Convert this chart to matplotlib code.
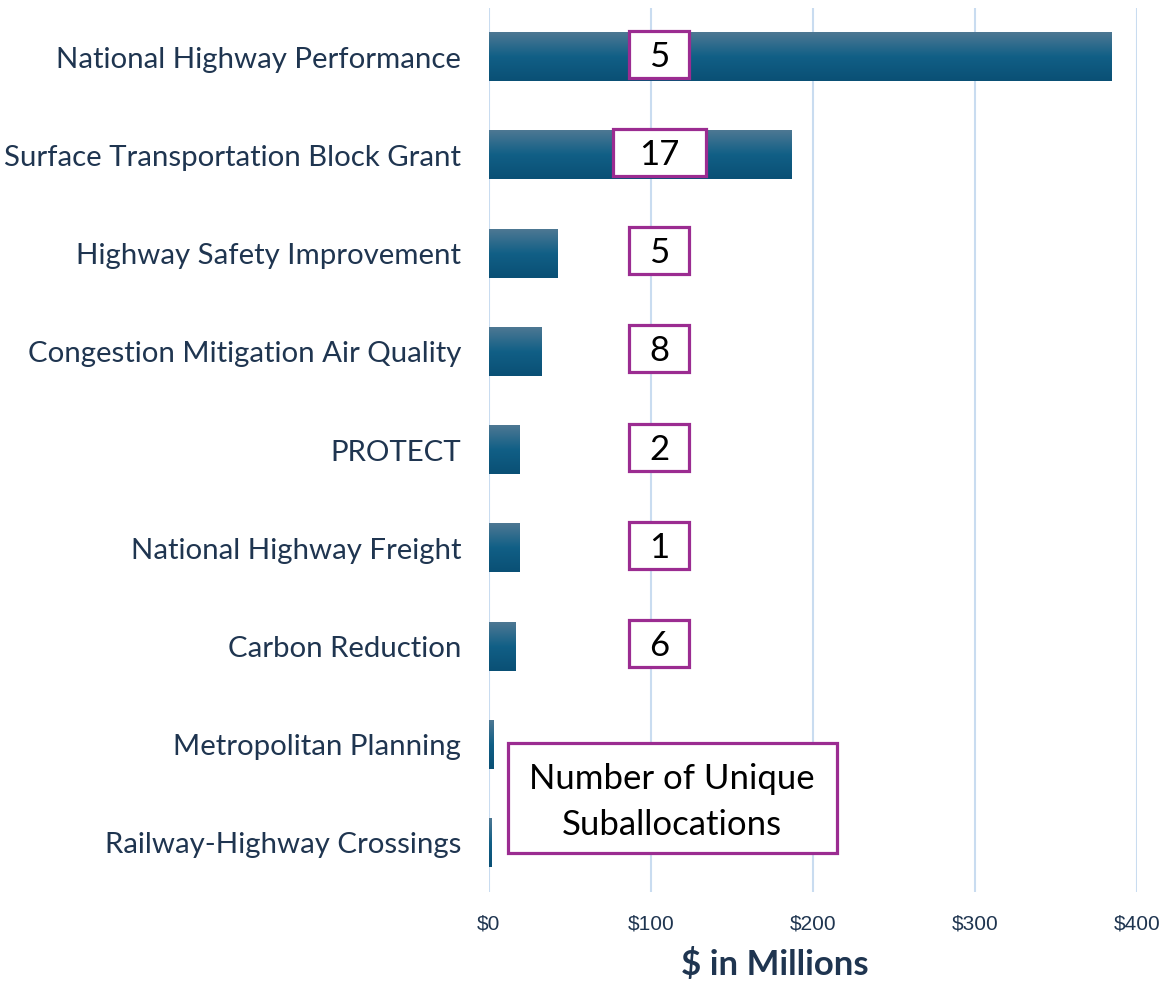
import matplotlib.pyplot as plt
import matplotlib.transforms as mtransforms
from matplotlib.patches import Rectangle
import numpy as np
from matplotlib.colors import LinearSegmentedColormap

programs = [
    "National Highway Performance",
    "Surface Transportation Block Grant",
    "Highway Safety Improvement",
    "Congestion Mitigation Air Quality",
    "PROTECT",
    "National Highway Freight",
    "Carbon Reduction",
    "Metropolitan Planning",
    "Railway-Highway Crossings",
]
amounts = [384.5, 187, 42.5, 32.5, 19, 19, 16.5, 2.5, 1.3]
suballocations = [5, 17, 5, 8, 2, 1, 6, None, None]
xticks = [0, 100, 200, 300, 400]

navy = "#1f3550"
purple = "#9b2c91"
grad = LinearSegmentedColormap.from_list(
    "bar", [(0, "#4d7893"), (0.5, "#115f86"), (1, "#0a5075")])

fig = plt.figure(figsize=(11.65, 9.82), dpi=100)
ax = fig.add_axes([0.4197, 0.0916, 0.5562, 0.9002])

ypos = np.arange(len(programs))
bars = ax.barh(ypos, amounts, height=0.49, color="#115f86", zorder=2)
g = np.linspace(0, 1, 64).reshape(-1, 1)
for b in bars:
    x, y, w, h = b.get_x(), b.get_y(), b.get_width(), b.get_height()
    ax.imshow(g, cmap=grad, aspect="auto", extent=(x, x + w, y + h, y),
              origin="upper", zorder=3, interpolation="bilinear")


def box(xc, yc, w_in, h_in):
    # fixed-size box (inches) centred on a data point
    tr = fig.dpi_scale_trans + mtransforms.ScaledTranslation(xc, yc, ax.transData)
    r = Rectangle((-w_in / 2, -h_in / 2), w_in, h_in, transform=tr,
                  fc="white", ec=purple, lw=2.3, zorder=4)
    ax.add_patch(r)


for y, n in zip(ypos, suballocations):
    if n is None:
        continue
    w = 0.93 if n >= 10 else 0.60
    box(105, y - 0.03, w, 0.47)
    ax.annotate(str(n), (105, y - 0.03), xytext=(0, -9), textcoords="offset points",
                ha="center", va="baseline", fontsize=25,
                family="Lato", color="black", zorder=5)

box(113, 7.54, 3.29, 1.10)
ax.text(113, 7.58, "Number of Unique\nSuballocations", ha="center", va="center",
        fontsize=25, family="Lato", color="black", linespacing=1.55, zorder=5)

ax.set_xlim(0, 400)
ax.set_ylim(8.5, -0.5)
ax.set_yticks(ypos)
ax.set_yticklabels(programs, fontsize=21.2, family="Lato", color=navy)
ax.set_xticks(xticks)
ax.set_xticklabels([f"${v}" for v in xticks], fontsize=15, family="Liberation Sans", color=navy)
ax.tick_params(length=0)
ax.tick_params(axis="y", pad=20)
ax.tick_params(axis="x", pad=16)
ax.grid(axis="x", color="#c9dcf0", lw=1.5, zorder=0)
ax.set_axisbelow(True)
for s in ax.spines.values():
    s.set_visible(False)
ax.set_xlabel("$ in Millions", fontsize=25, fontweight="bold", family="Lato",
              color=navy)
ax.xaxis.set_label_coords(0.441, -0.063)

fig.savefig("out.png")
